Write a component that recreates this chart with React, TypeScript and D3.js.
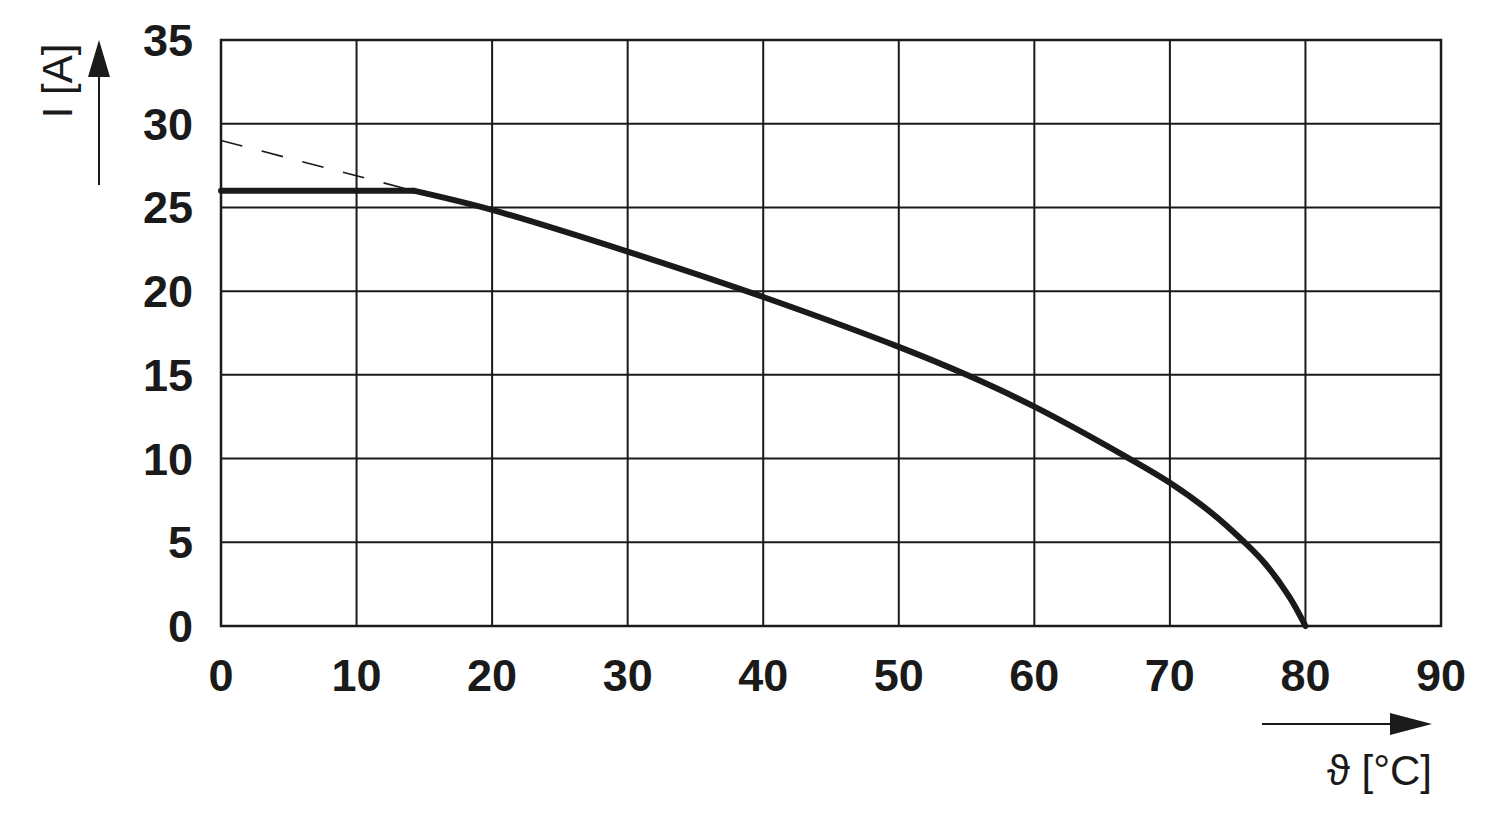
import { useEffect } from "react";
import * as d3 from "d3";

// derating curve
const flatTemps = [0, 14.2];
const flatCurrents = [26, 26];
const curveTemps = [14.2, 20, 30, 40, 50, 55, 60, 67, 70, 73, 75.5, 77, 78.8, 80];
const curveCurrents = [26, 24.85, 22.36, 19.65, 16.67, 15, 13.1, 10, 8.55, 6.8, 5, 3.75, 1.75, 0];
const dashTemps = [0, 14.2];
const dashCurrents = [29, 26];

const xTicks = [0, 10, 20, 30, 40, 50, 60, 70, 80, 90];
const yTicks = [0, 5, 10, 15, 20, 25, 30, 35];

const width = 1500;
const height = 821;
const margin = { top: 40, right: 59, bottom: 195, left: 221 };

const App = () => {
  useEffect(() => {
    document.body.style.margin = "0";
  }, []);

  const x = d3.scaleLinear().domain([0, 90]).range([margin.left, width - margin.right]);
  const y = d3.scaleLinear().domain([0, 35]).range([height - margin.bottom, margin.top]);

  const straight = d3.line<number>().x((d, i) => x(flatTemps[i])).y((d) => y(d));
  const curve = d3
    .line<number>()
    .x((d, i) => x(curveTemps[i]))
    .y((d) => y(d))
    .curve(d3.curveCatmullRom.alpha(0.5));
  const dashed = d3.line<number>().x((d, i) => x(dashTemps[i])).y((d) => y(d));

  const font = "'Liberation Sans', Arial, Helvetica, sans-serif";

  return (
    <svg width={width} height={height} style={{ display: "block", background: "#fff" }}>
      {/* grid */}
      {xTicks.map((t) => (
        <line key={"gx" + t} x1={x(t)} x2={x(t)} y1={y(0)} y2={y(35)} stroke="#1a1a1a" strokeWidth={2} />
      ))}
      {yTicks.map((t) => (
        <line key={"gy" + t} x1={x(0)} x2={x(90)} y1={y(t)} y2={y(t)} stroke="#1a1a1a" strokeWidth={2} />
      ))}
      <rect x={x(0)} y={y(35)} width={x(90) - x(0)} height={y(0) - y(35)} fill="none" stroke="#1a1a1a" strokeWidth={2.5} />

      {/* tick labels */}
      {yTicks.map((t) => (
        <text key={"ly" + t} x={193} y={y(t) + 16} textAnchor="end" fontFamily={font} fontWeight="bold" fontSize={45} fill="#1a1a1a">
          {t}
        </text>
      ))}
      {xTicks.map((t) => (
        <text key={"lx" + t} x={x(t)} y={691} textAnchor="middle" fontFamily={font} fontWeight="bold" fontSize={45} fill="#1a1a1a">
          {t}
        </text>
      ))}

      {/* curves */}
      <path d={dashed(dashCurrents) || ""} fill="none" stroke="#1a1a1a" strokeWidth={1.6} strokeDasharray="22 20" />
      <path d={straight(flatCurrents) || ""} fill="none" stroke="#1a1a1a" strokeWidth={6} strokeLinecap="round" />
      <path d={curve(curveCurrents) || ""} fill="none" stroke="#1a1a1a" strokeWidth={6} strokeLinecap="round" strokeLinejoin="round" />

      {/* axis arrows and labels */}
      <line x1={99} y1={185} x2={99} y2={70} stroke="#1a1a1a" strokeWidth={2} />
      <line x1={1262} y1={724} x2={1400} y2={724} stroke="#1a1a1a" strokeWidth={2} />
      <path d="M99,40 L88,77 L110,77 Z" fill="#1a1a1a" />
      <path d="M1432,724 L1390,713 L1390,735 Z" fill="#1a1a1a" />
      <text transform="translate(72,81) rotate(-90)" textAnchor="middle" fontFamily={font} fontSize={42} fill="#1a1a1a">
        I [A]
      </text>
      <text x={1432} y={785} textAnchor="end" fontFamily={font} fontSize={42} fill="#1a1a1a">
        ϑ [°C]
      </text>
    </svg>
  );
};

export default App;
